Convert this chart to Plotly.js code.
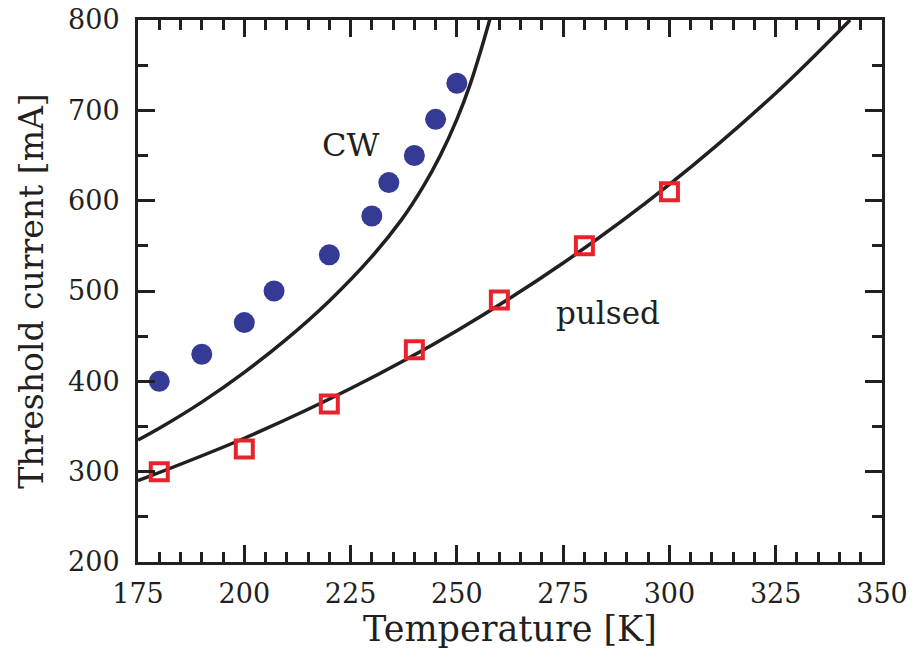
<!DOCTYPE html>
<html>
<head>
<meta charset="utf-8">
<script src="https://cdn.plot.ly/plotly-3.0.1.min.js"></script>
<style>
  html, body { margin: 0; padding: 0; background: #ffffff; }
  #chart { width: 915px; height: 662px; }
</style>
</head>
<body>
<div id="chart"></div>
<script>
// Measured threshold currents
const tempCW = [180, 190, 200, 207, 220, 230, 234, 240, 245, 250];
const currentCW = [400, 430, 465, 500, 540, 583, 620, 650, 690, 730];

const tempPulsed = [180, 200, 220, 240, 260, 280, 300];
const currentPulsed = [300, 325, 375, 435, 490, 550, 610];

// Fitted curves
const fitTempCW = [175, 180, 190, 200, 210, 220, 230, 237, 242, 246, 250, 253, 256, 258];
const fitCurrentCW = [335, 348, 377, 410, 447, 489, 538, 579, 615, 649, 690, 727, 772, 805];

const fitTempPulsed = [175, 200, 225, 250, 275, 300, 325, 342.5];
const fitCurrentPulsed = [290, 337, 392, 456, 531, 618, 719, 800];

// Axis ticks
const xTicks = [175, 200, 225, 250, 275, 300, 325, 350];
const yTicks = [200, 300, 400, 500, 600, 700, 800];

const ink = '#231f20';
const serif = 'DejaVu Serif, Liberation Serif, serif';

const traces = [
  {
    x: fitTempCW, y: fitCurrentCW, mode: 'lines', type: 'scatter',
    line: { color: ink, width: 3.5, shape: 'spline', smoothing: 1 },
    hoverinfo: 'skip', showlegend: false
  },
  {
    x: fitTempPulsed, y: fitCurrentPulsed, mode: 'lines', type: 'scatter',
    line: { color: ink, width: 3.5, shape: 'spline', smoothing: 1 },
    hoverinfo: 'skip', showlegend: false
  },
  {
    x: tempCW, y: currentCW, mode: 'markers', type: 'scatter', name: 'CW',
    marker: { symbol: 'circle', size: 21, color: '#353b95', line: { width: 0 } },
    showlegend: false
  },
  {
    x: tempPulsed, y: currentPulsed, mode: 'markers', type: 'scatter', name: 'pulsed',
    marker: { symbol: 'square-open', size: 17, color: '#e8232b', line: { width: 4, color: '#e8232b' } },
    showlegend: false
  }
];

const axisCommon = {
  showline: true, linecolor: ink, linewidth: 3, mirror: 'ticks',
  ticks: 'inside', ticklen: 17, tickwidth: 3, tickcolor: ink,
  showgrid: false, zeroline: false,
  tickfont: { family: serif, size: 27, color: ink },
  fixedrange: true
};

const layout = {
  width: 915, height: 662,
  margin: { l: 138, r: 33, t: 20, b: 100 },
  paper_bgcolor: '#ffffff', plot_bgcolor: '#ffffff',
  xaxis: Object.assign({}, axisCommon, {
    range: [175, 350], tickvals: xTicks, ticktext: xTicks.map(String),
    ticklabelstandoff: 6,
    minor: { dtick: 5, tick0: 175, ticks: 'inside', ticklen: 10, tickwidth: 3, tickcolor: ink, showgrid: false },
    title: { text: 'Temperature [K]', font: { family: serif, size: 35, color: ink }, standoff: 6 }
  }),
  yaxis: Object.assign({}, axisCommon, {
    range: [200, 800], tickvals: yTicks, ticktext: yTicks.map(String),
    ticklabelstandoff: 10,
    minor: { dtick: 50, tick0: 200, ticks: 'inside', ticklen: 10, tickwidth: 3, tickcolor: ink, showgrid: false },
    title: { text: 'Threshold current [mA]', font: { family: serif, size: 33, color: ink }, standoff: 15 }
  }),
  annotations: [
    { x: 225, y: 662, xref: 'x', yref: 'y', text: 'CW', showarrow: false,
      font: { family: serif, size: 32, color: ink } },
    { x: 285.6, y: 476, xref: 'x', yref: 'y', text: 'pulsed', showarrow: false,
      font: { family: serif, size: 31, color: ink } }
  ]
};

Plotly.newPlot('chart', traces, layout, { displayModeBar: false, staticPlot: true });
</script>
</body>
</html>
